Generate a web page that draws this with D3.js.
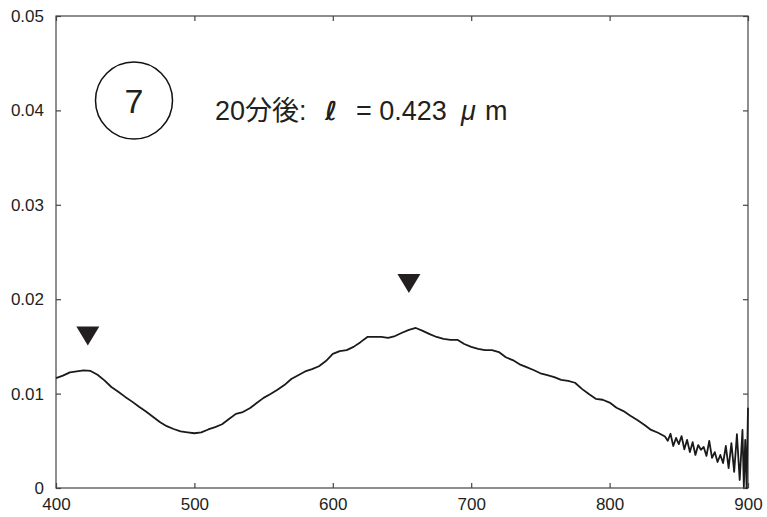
<!DOCTYPE html>
<html>
<head>
<meta charset="utf-8">
<script src="https://cdn.jsdelivr.net/npm/d3@7"></script>
<style>
  body { margin: 0; background: #fff; }
  svg { font-family: "Liberation Sans", Arial, "Noto Sans CJK JP", sans-serif; }
</style>
</head>
<body>
<svg id="svg1" width="767" height="517"></svg>
<script>
// wavelength (nm) and signal
var wavelength = [400,405,410,415,420,425,430,435,440,445,450,455,460,465,470,475,480,485,490,495,
  500,505,510,515,520,525,530,535,540,545,550,555,560,565,570,575,580,585,590,595,
  600,605,610,615,620,625,630,635,640,645,650,655,660,665,670,675,680,685,690,695,
  700,705,710,715,720,725,730,735,740,745,750,755,760,765,770,775,780,785,790,795,
  800,805,810,815,820,825,830,835,840,842,844,846,848,850,852,854,856,858,860,862,
  864,866,868,870,872,874,876,878,880,882,884,886,888,890,892,894,896,897,898,899,900];
var signal = [0.01165,0.01190,0.01225,0.01235,0.01245,0.01240,0.01200,0.01140,0.01070,0.01020,
  0.00965,0.00915,0.00860,0.00810,0.00755,0.00700,0.00655,0.00625,0.00600,0.00590,
  0.00580,0.00590,0.00620,0.00645,0.00675,0.00730,0.00785,0.00805,0.00845,0.00900,
  0.00955,0.00995,0.01040,0.01090,0.01155,0.01195,0.01235,0.01260,0.01290,0.01345,
  0.01420,0.01450,0.01460,0.01495,0.01545,0.01600,0.01600,0.01600,0.01590,0.01610,
  0.01645,0.01675,0.01695,0.01665,0.01630,0.01600,0.01580,0.01570,0.01570,0.01525,
  0.01495,0.01475,0.01460,0.01460,0.01440,0.01385,0.01355,0.01310,0.01280,0.01250,
  0.01215,0.01195,0.01175,0.01145,0.01135,0.01115,0.01050,0.00995,0.00945,0.00935,
  0.00905,0.00850,0.00815,0.00765,0.00720,0.00670,0.00615,0.00585,0.00545,0.00500,
  0.00575,0.00445,0.00530,0.00465,0.00550,0.00410,0.00510,0.00380,0.00485,0.00350,
  0.00455,0.00405,0.00435,0.00340,0.00500,0.00320,0.00380,0.00275,0.00350,0.00265,
  0.00445,0.00210,0.00475,0.00170,0.00570,0.00085,0.00615,0.00010,0.00510,0.00000,0.00850];
var markerX = [423, 655];
var markerY = [0.0161, 0.02165];
var xTicks = [400, 500, 600, 700, 800, 900];
var yTicks = [0, 0.01, 0.02, 0.03, 0.04, 0.05];

var margin = { top: 16, right: 19, bottom: 29, left: 56 };
var width = 767, height = 517;
var innerW = width - margin.left - margin.right;
var innerH = height - margin.top - margin.bottom;

var svg = d3.select('#svg1');
var g = svg.append('g').attr('transform', `translate(${margin.left},${margin.top})`);

var xScale = d3.scaleLinear().domain([400, 900]).range([0, innerW]);
var yScale = d3.scaleLinear().domain([0, 0.05]).range([innerH, 0]);

var axisColor = '#444';
var textColor = '#231f20';

// frame
g.append('rect')
  .attr('width', innerW).attr('height', innerH)
  .style('fill', 'none').style('stroke', axisColor).style('stroke-width', 1.2);

function styleAxis(sel, showText) {
  sel.select('.domain').remove();
  sel.selectAll('line').style('stroke', axisColor).style('stroke-width', 1.2);
  sel.selectAll('text').style('fill', textColor).style('font-size', '17px');
  if (!showText) sel.selectAll('text').remove();
}

g.append('g')
  .attr('transform', `translate(0,${innerH})`)
  .call(d3.axisBottom(xScale).tickValues(xTicks).tickSize(-5).tickPadding(10).tickFormat(d3.format('d')))
  .call(s => styleAxis(s, true));
g.append('g')
  .call(d3.axisTop(xScale).tickValues(xTicks).tickSize(-5))
  .call(s => styleAxis(s, false));
g.append('g')
  .call(d3.axisLeft(yScale).tickValues(yTicks).tickSize(-5).tickPadding(12)
    .tickFormat(d => d === 0 ? '0' : d3.format('.2f')(d)))
  .call(s => styleAxis(s, true));
g.append('g')
  .attr('transform', `translate(${innerW},0)`)
  .call(d3.axisRight(yScale).tickValues(yTicks).tickSize(-5))
  .call(s => styleAxis(s, false));

// spectrum
var pts = wavelength.map((w, i) => [w, signal[i]]);
var line = d3.line().x(d => xScale(d[0])).y(d => yScale(d[1]));
g.append('path')
  .datum(pts)
  .style('fill', 'none')
  .style('stroke', '#1a1a1a')
  .style('stroke-width', 1.8)
  .style('stroke-linejoin', 'round')
  .attr('d', line);

// peak markers (downward triangles)
g.selectAll('.marker')
  .data(markerX.map((x, i) => [x, markerY[i]]))
  .enter()
  .append('path')
  .attr('class', 'marker')
  .attr('transform', d => `translate(${xScale(d[0])},${yScale(d[1])})`)
  .attr('d', 'M-11.5,-9.5L11.5,-9.5L0,9.5Z')
  .style('fill', '#231f20');

// annotation
svg.append('circle')
  .attr('cx', 134).attr('cy', 100.5).attr('r', 38.5)
  .style('fill', 'none').style('stroke', '#111').style('stroke-width', 1.5);
svg.append('text')
  .attr('x', 134).attr('y', 113)
  .attr('text-anchor', 'middle')
  .style('font-size', '34px').style('fill', textColor)
  .text('7');

var label = svg.append('text')
  .attr('y', 120)
  .style('font-size', '27px').style('fill', textColor);
label.append('tspan').attr('x', 215).text('20分後:');
label.append('tspan').attr('x', 325).style('font-weight', 'bold')
  .style('font-family', '"DejaVu Sans", sans-serif').style('font-size', '26px').text('ℓ');
label.append('tspan').attr('x', 356).text('= 0.423');
label.append('tspan').attr('x', 461).style('font-style', 'italic').text('μ');
label.append('tspan').attr('x', 485).text('m');
</script>
</body>
</html>
